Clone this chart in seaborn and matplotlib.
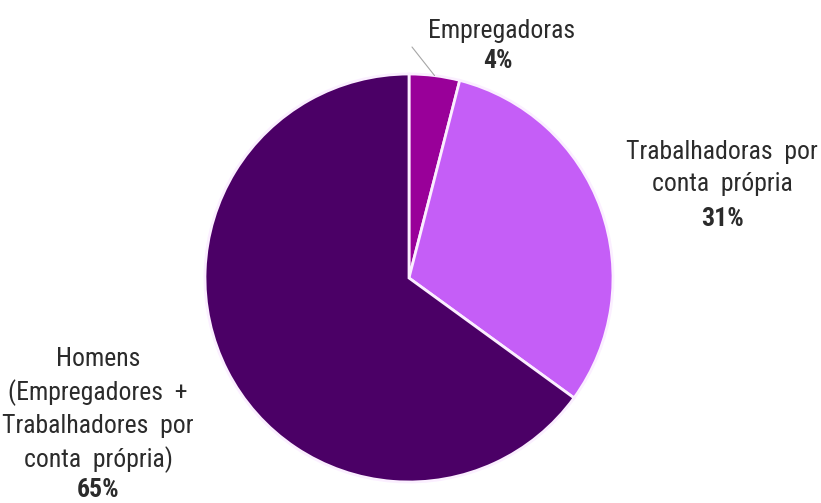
import numpy as np
import matplotlib
matplotlib.use("Agg")
import matplotlib.pyplot as plt
import seaborn as sns

# Shares of self-employed and employer workers
categories = ["Empregadoras", "Trabalhadoras  por\nconta  própria",
              "Homens\n(Empregadores  +\nTrabalhadores  por\nconta  própria)"]
shares = [4, 31, 65]
pct_labels = ["4%", "31%", "65%"]
colors = ["#990099", "#C55EF7", "#4B0066"]

sns.set_theme(style="white")
plt.rcParams["font.family"] = ["Roboto Condensed", "DejaVu Sans"]

W, H = 821, 503
fig = plt.figure(figsize=(W / 100, H / 100), dpi=100)
ax = fig.add_axes([0, 0, 1, 1])

cx, cy, r = 409, H - 278, 204
wedges, _ = ax.pie(shares, colors=colors, startangle=90, counterclock=False,
                   center=(cx, cy), radius=r, frame=True,
                   wedgeprops=dict(edgecolor="#FBEFFF", linewidth=2))
ax.set_xlim(0, W)
ax.set_ylim(0, H)
ax.set_aspect("equal")
ax.axis("off")

fs = 18.5
txt = "#2B2B2B"
weight = "normal"

# Empregadoras: label above the pie with a leader line
w0 = wedges[0]
mid = np.deg2rad((w0.theta1 + w0.theta2) / 2)
ax.plot([cx + r * np.cos(mid), 412], [cy + r * np.sin(mid), H - 47],
        color="#A6A6A6", lw=0.8)
ax.text(502, H - 31, categories[0], ha="center", va="center", fontsize=fs,
        color=txt, fontweight=weight)
ax.text(498, H - 61, pct_labels[0], ha="center", va="center", fontsize=fs,
        fontweight="bold", color=txt)

# Trabalhadoras por conta própria
ax.text(722, H - 168, categories[1], ha="center", va="center", fontsize=fs,
        color=txt, linespacing=1.4, fontweight=weight)
ax.text(722, H - 219, pct_labels[1], ha="center", va="center", fontsize=fs,
        fontweight="bold", color=txt)

# Homens
ax.text(98, H - 410, categories[2], ha="center", va="center", fontsize=fs,
        color=txt, linespacing=1.4, fontweight=weight)
ax.text(98, H - 490, pct_labels[2], ha="center", va="center", fontsize=fs,
        fontweight="bold", color=txt)

fig.savefig("out.png", dpi=100, facecolor="white")
